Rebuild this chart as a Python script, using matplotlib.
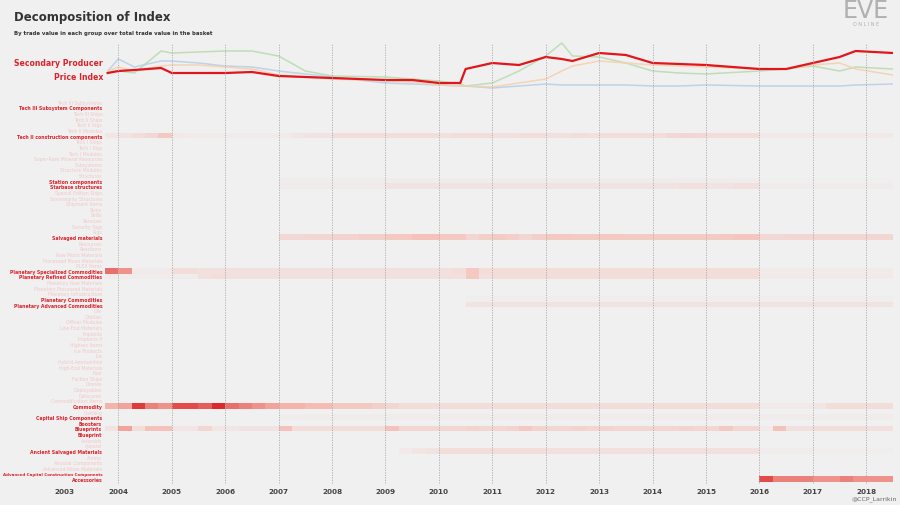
import numpy as np
import matplotlib
matplotlib.use("Agg")
import matplotlib.pyplot as plt
from matplotlib.colors import LinearSegmentedColormap

plt.rcParams["font.family"] = ["DejaVu Sans"]

groups = ["Tech III Subsystems", "Tech III Subsystem Components", "Tech III Ships", "Tech II Ships",
          "Tech II Rigs", "Tech II Modules", "Tech II construction components", "Tech I Ships",
          "Tech I Rigs", "Tech I Modules", "Super-Rare Mineral Resources", "Subsystems",
          "Structure Modules", "Structures", "Station components", "Starbase structures",
          "Special Edition Ships", "Sovereignty Structures", "Shipment Items", "Skins", "Skills",
          "Services", "Security Tags", "Rigs", "Salvaged materials", "Resources", "Reactions",
          "Raw Moon Materials", "Processed Moon Materials", "PLEX Items",
          "Planetary Specialized Commodities", "Planetary Refined Commodities",
          "Planetary Raw Materials", "Planetary Processed Materials", "Planetary Infrastructure",
          "Planetary Commodities", "Planetary Advanced Commodities", "Ore", "Orbitals",
          "Officer Modules", "Low-End Materials", "Implants", "Implants II", "Highsec Items",
          "Ice Products", "Ice", "Hybrid Ammunition", "High-End Materials", "Fuel", "Faction Ships",
          "Drones", "Deployables", "Datacores", "Cosmodification Items", "Commodity", "Clothing",
          "Capital Ship Components", "Boosters", "Blueprints", "Blueprint", "Asteroids", "Apparel",
          "Ancient Salvaged Materials", "Ammo", "Abyssal Components", "Advanced Moon Materials",
          "Advanced Capital Construction Components", "Accessories"]
highlighted = ["Tech III Subsystem Components", "Tech II construction components", "Station components",
               "Starbase structures", "Salvaged materials", "Planetary Specialized Commodities",
               "Planetary Refined Commodities", "Planetary Commodities", "Planetary Advanced Commodities",
               "Commodity", "Capital Ship Components", "Boosters", "Blueprints", "Blueprint",
               "Ancient Salvaged Materials", "Advanced Capital Construction Components", "Accessories"]

# quarterly shares, first quarter starts 2003.75 (i0, then 4 per year 2004..2017, then 2 for 2018)
shares = {
 "Tech II construction components": [.08, .10,.15,.18,.30, .06,.05,.05,.04, .04,.04,.04,.04, .05,.08,.10,.10,
   .15,.15,.15,.15, .15,.15,.15,.15, .12,.15,.15,.15, .12,.12,.15,.15, .12,.12,.15,.12, .15,.15,.15,.15,
   .15,.18,.20,.18, .15,.15,.15,.15, .06,.06,.06,.06, .06,.06,.06,.06, .06,.06],
 "Station components": [0, 0,0,0,0, 0,0,0,0, 0,0,0,0, .03,.03,.03,.03, .03,.03,.03,.03, .03,.03,.03,.03,
   .03,.03,.03,.03, .03,.03,.03,.03, .03,.03,.03,.03, .03,.03,.03,.03, .03,.03,.03,.03, .03,.03,.03,.03,
   .01,.01,.01,.01, .01,.01,.01,.01, .01,.01],
 "Starbase structures": [0, 0,0,0,0, 0,0,0,0, 0,0,0,0, .04,.04,.04,.04, .04,.04,.04,.04, .10,.10,.10,.10,
   .10,.10,.10,.10, .10,.10,.10,.10, .10,.10,.10,.10, .10,.10,.10,.10, .10,.10,.12,.12, .10,.10,.12,.12,
   .03,.03,.03,.03, .03,.03,.03,.03, .03,.03],
 "Salvaged materials": [0, 0,0,0,0, 0,0,0,0, 0,0,0,0, .18,.18,.20,.20, .22,.22,.25,.25, .30,.30,.35,.35,
   .30,.30,.20,.25, .28,.25,.20,.25, .30,.30,.28,.28, .30,.30,.28,.28, .28,.28,.28,.28, .28,.30,.32,.32,
   .18,.18,.20,.20, .20,.20,.20,.20, .20,.20],
 "Planetary Specialized Commodities": [.65, .55,.05,.04,.04, .15,.15,.12,.12, .12,.12,.12,.12,
   .12,.12,.12,.12, .12,.12,.12,.12, .12,.12,.12,.12, .12,.15,.30,.15, .15,.15,.15,.15, .15,.15,.15,.15,
   .15,.15,.15,.15, .15,.15,.15,.15, .15,.15,.15,.15, .05,.05,.05,.05, .05,.05,.05,.05, .05,.05],
 "Planetary Refined Commodities": [.04, .03,.03,.03,.03, .03,.03,.12,.15, .12,.12,.12,.12,
   .12,.12,.12,.12, .12,.12,.12,.12, .12,.12,.12,.12, .12,.12,.30,.12, .15,.15,.15,.15, .15,.15,.15,.15,
   .15,.15,.15,.15, .15,.15,.15,.15, .15,.15,.15,.15, .04,.04,.04,.04, .04,.04,.04,.04, .04,.04],
 "Planetary Commodities": [0, 0,0,0,0, 0,0,0,0, 0,0,0,0, 0,0,0,0, 0,0,0,0, 0,0,0,0, 0,0,.02,.02,
   .02,.02,.02,.02, .02,.02,.02,.02, .02,.02,.02,.02, .02,.02,.02,.02, .02,.02,.02,.02, .02,.02,.02,.02,
   .02,.02,.02,.02, .02,.02],
 "Planetary Advanced Commodities": [0, 0,0,0,0, 0,0,0,0, 0,0,0,0, 0,0,0,0, 0,0,0,0, 0,0,0,0, 0,0,.10,.10,
   .10,.10,.10,.10, .10,.10,.10,.10, .10,.10,.10,.10, .10,.10,.10,.10, .10,.10,.10,.10, .10,.10,.10,.10,
   .10,.10,.10,.10, .10,.10],
 "Commodity": [.45, .50,.80,.60,.55, .75,.75,.70,.85, .65,.60,.55,.50, .45,.45,.40,.40, .30,.30,.30,.25,
   .20,.15,.15,.15, .15,.15,.15,.15, .15,.15,.15,.15, .15,.15,.15,.15, .15,.15,.15,.15, .15,.15,.15,.15,
   .15,.15,.15,.15, .04,.04,.04,.04, .08,.15,.15,.15, .15,.15],
 "Capital Ship Components": [0, 0,0,0,0, 0,0,0,0, 0,0,0,0, .03,.03,.03,.03, .03,.03,.03,.03, .03,.03,.03,.03,
   .03,.03,.03,.03, .03,.03,.03,.03, .03,.03,.03,.03, .03,.03,.03,.03, .03,.03,.03,.03, .03,.03,.03,.03,
   .03,.03,.03,.03, .03,.03,.03,.03, .03,.03],
 "Blueprints": [.10, .50,.15,.35,.35, .08,.08,.20,.08, .08,.10,.10,.10, .35,.15,.15,.15, .15,.15,.15,.15,
   .35,.20,.20,.20, .20,.20,.22,.20, .20,.22,.30,.22, .20,.20,.22,.20, .22,.20,.20,.20, .20,.20,.22,.20,
   .20,.30,.20,.20, .05,.35,.12,.12, .15,.15,.15,.15, .12,.12],
 "Ancient Salvaged Materials": [0, 0,0,0,0, 0,0,0,0, 0,0,0,0, 0,0,0,0, 0,0,0,0, 0,.05,.08,.10,
   .15,.15,.15,.15, .15,.15,.15,.15, .12,.12,.12,.12, .12,.12,.12,.12, .12,.12,.12,.12, .12,.12,.12,.12,
   .03,.03,.03,.03, .02,.02,.02,.02, .02,.02],
 "Accessories": [0, 0,0,0,0, 0,0,0,0, 0,0,0,0, 0,0,0,0, 0,0,0,0, 0,0,0,0, 0,0,0,0, 0,0,0,0, 0,0,0,0,
   0,0,0,0, 0,0,0,0, 0,0,0,0, .75,.60,.60,.60, .55,.55,.60,.55, .55,.55],
}

line_years = [2003.8, 2004.0, 2004.3, 2004.8, 2005.0, 2005.5, 2006.0, 2006.5, 2007.0, 2007.5, 2008.0, 2009.0,
              2009.5, 2010.0, 2010.4, 2010.5, 2011.0, 2011.5, 2012.0, 2012.3, 2012.5, 2013.0, 2013.5, 2014.0,
              2014.5, 2015.0, 2016.0, 2016.5, 2017.0, 2017.5, 2017.8, 2018.5]
secondary_index = [28, 30, 31, 33, 28, 28, 28, 29, 25, 24, 23, 21, 21, 18, 18, 32, 38, 36, 44, 42, 40, 48, 46,
                   38, 37, 36, 32, 32, 38, 44, 50, 48]
green_series = [28, 30, 28, 50, 48, 49, 50, 50, 45, 30, 25, 24, 22, 20, 17, 15, 18, 30, 45, 58, 45, 44, 38,
                30, 28, 27, 30, 32, 35, 30, 34, 32]
blue_series = [30, 42, 34, 40, 40, 38, 35, 34, 30, 27, 24, 18, 17, 16, 15, 15, 13, 15, 17, 16, 16, 16, 16,
               15, 15, 16, 15, 15, 15, 15, 16, 17]
orange_series = [30, 34, 30, 35, 36, 36, 34, 32, 26, 24, 22, 20, 19, 16, 15, 15, 14, 18, 22, 30, 35, 40, 38,
                 36, 35, 34, 32, 32, 36, 38, 32, 26]

years = list(range(2003, 2019))

W, H = 900, 506
fig = plt.figure(figsize=(9, 5.06), dpi=100, facecolor="#f0f0f0")
x0, x1 = 2003.75, 2018.5
px_l, px_r = 105, 893

def axes_px(top, bottom):
    return [px_l / W, (H - bottom) / H, (px_r - px_l) / W, (bottom - top) / H]

axl = fig.add_axes(axes_px(40, 97))
axl.set_facecolor("none")
for s, c, lw, a in [(green_series, "#b8dcb0", 1.1, 0.9), (blue_series, "#b8d0e8", 1.1, 0.9),
                    (orange_series, "#f5d0b0", 1.1, 0.9), (secondary_index, "#e0161c", 1.6, 1)]:
    axl.plot(line_years, s, color=c, lw=lw, alpha=a)
axl.set_xlim(x0, x1)
axl.set_ylim(5, 62)
axl.axis("off")

axh = fig.add_axes(axes_px(100, 483))
n = len(groups)
edges = np.arange(60) * 0.25 + x0
Z = np.zeros((n, 59))
for key, v in shares.items():
    Z[groups.index(key)] = v
cmap = LinearSegmentedColormap.from_list("r", ["#f0f0f0", "#f5b5ab", "#d7191c"])
axh.pcolormesh(edges, np.arange(n + 1), Z, cmap=cmap, vmin=0, vmax=0.9, shading="flat")
axh.set_xlim(x0, x1)
axh.set_ylim(n, 0)
axh.set_facecolor("#f0f0f0")
for s in axh.spines.values():
    s.set_visible(False)
axh.set_xticks([])
axh.set_yticks(np.arange(n) + 0.5)
axh.set_yticklabels(groups, fontsize=3.3)
axh.tick_params(axis="y", length=0, pad=2)
for lab, g in zip(axh.get_yticklabels(), groups):
    if g in highlighted:
        lab.set_color("#d9232a"); lab.set_fontweight("bold")
    else:
        lab.set_color("#f0c8c8")
    if len(g) > 36:
        lab.set_fontsize(2.9)

for y in years:
    xf = (px_l + (y - x0) / (x1 - x0) * (px_r - px_l)) / W
    if y >= 2004:
        fig.add_artist(plt.Line2D([xf, xf], [(H - 484) / H, (H - 45) / H], color="#aaaaaa",
                                  lw=0.6, ls=(0, (1.5, 1.5)), transform=fig.transFigure))
    fig.text(xf, (H - 492) / H, str(y), ha="center", va="center", fontsize=5.2, fontweight="bold",
             color="#444444")

fig.text(14 / W, 1 - 17 / H, "Decomposition of Index", fontsize=8.5,
         fontweight="bold", color="#333333", va="center")
fig.text(14 / W, 1 - 33 / H, "By trade value in each group over total trade value in the basket",
         fontsize=3.9, fontweight="bold", color="#333333", va="center")
fig.text(103 / W, 1 - 64 / H, "Secondary Producer", ha="right", va="center",
         fontsize=5.6, fontweight="bold", color="#d9232a")
fig.text(103 / W, 1 - 77 / H, "Price Index", ha="right", va="center",
         fontsize=5.6, fontweight="bold", color="#d9232a")
fig.text(866 / W, 1 - 11 / H, "EVE", ha="center", va="center", fontsize=17, color="#b0b0b0")
fig.text(866 / W, 1 - 25 / H, "O N L I N E", ha="center", va="center", fontsize=3.5, color="#b0b0b0")
fig.text(897 / W, 1 - 499 / H, "@CCP_Larrikin", ha="right", va="center", fontsize=4.5, color="#666666")

fig.savefig("out.png", dpi=100, facecolor=fig.get_facecolor())
